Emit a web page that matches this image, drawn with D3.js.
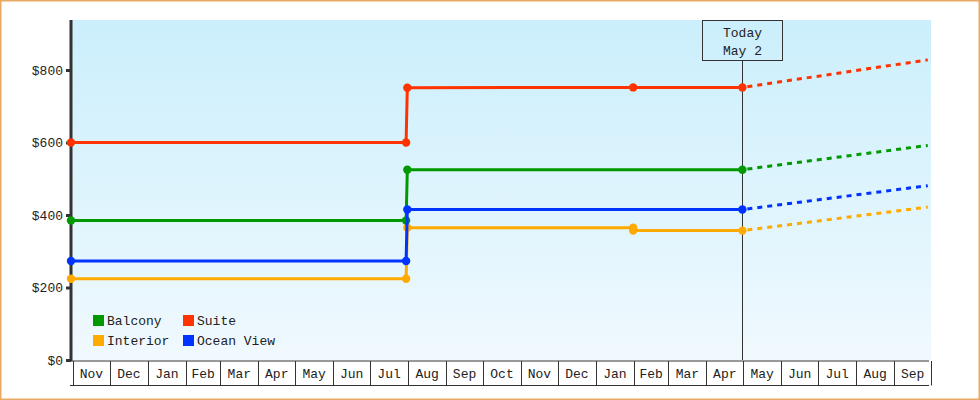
<!DOCTYPE html>
<html>
<head>
<meta charset="utf-8">
<script src="https://cdn.jsdelivr.net/npm/d3@7"></script>
<style>
  body { margin: 0; background: #fff; }
  svg text { font-family: "Liberation Mono", monospace; fill: #222; }
</style>
</head>
<body>
<div id="chart"></div>
<script>
// price history per cabin type (date, price)
const seriesNames = ['Balcony', 'Suite', 'Interior', 'Ocean View'];
const seriesColors = ['#009900', '#ff3300', '#ffaa00', '#0033ff'];

const balconyDates = ['2021-11-01', '2022-08-01', '2022-08-02', '2023-05-02'];
const balconyPrices = [385, 385, 525, 525];
const suiteDates = ['2021-11-01', '2022-08-01', '2022-08-02', '2023-02-02', '2023-05-02'];
const suitePrices = [600, 600, 751, 752, 752];
const interiorDates = ['2021-11-01', '2022-08-01', '2022-08-02', '2023-02-02', '2023-02-02', '2023-05-02'];
const interiorPrices = [224, 224, 365, 365, 357, 357];
const oceanDates = ['2021-11-01', '2022-08-01', '2022-08-02', '2023-05-02'];
const oceanPrices = [273, 273, 415, 415];

// forecast (dashed) from today to end of range
const forecastDates = ['2023-05-02', '2023-09-30'];
const balconyForecast = [525, 592];
const suiteForecast = [752, 828];
const interiorForecast = [357, 422];
const oceanForecast = [415, 481];

const yTicks = [0, 200, 400, 600, 800];
const todayDate = '2023-05-02';
const todayLabel = ['Today', 'May 2'];
const rangeStart = '2021-11-01';
const rangeEnd = '2023-10-01';

const parse = d3.timeParse('%Y-%m-%d');

const history = [
  { dates: balconyDates, prices: balconyPrices, forecast: balconyForecast },
  { dates: suiteDates, prices: suitePrices, forecast: suiteForecast },
  { dates: interiorDates, prices: interiorPrices, forecast: interiorForecast },
  { dates: oceanDates, prices: oceanPrices, forecast: oceanForecast }
];

const width = 980, height = 400;
const plot = { left: 71, right: 929, top: 20, bottom: 360 };

const svg = d3.select('#chart').append('svg')
  .attr('width', width)
  .attr('height', height);

// background gradient
const grad = svg.append('defs').append('linearGradient')
  .attr('id', 'bg').attr('x1', 0).attr('y1', 0).attr('x2', 0).attr('y2', 1);
grad.append('stop').attr('offset', '0%').attr('stop-color', '#cbeffc');
grad.append('stop').attr('offset', '100%').attr('stop-color', '#f0f9fe');

svg.append('rect')
  .attr('x', 0.75).attr('y', 0.75)
  .attr('width', width - 1.5).attr('height', height - 1.5)
  .attr('fill', '#fff')
  .attr('stroke', '#e9a962')
  .attr('stroke-width', 1.5);

svg.append('rect')
  .attr('x', plot.left).attr('y', plot.top)
  .attr('width', 931 - plot.left).attr('height', plot.bottom - plot.top)
  .attr('fill', 'url(#bg)');

const x = d3.scaleTime()
  .domain([parse(rangeStart), parse(rangeEnd)])
  .range([plot.left, plot.right]);

const y = d3.scaleLinear()
  .domain([0, 938])
  .range([plot.bottom, plot.top]);

// month cells under the axis
const months = d3.timeMonth.range(parse(rangeStart), parse(rangeEnd));
const monthFmt = d3.timeFormat('%b');
const cells = svg.append('g');
cells.append('line')
  .attr('x1', plot.left - 1).attr('x2', plot.right)
  .attr('y1', 385.5).attr('y2', 385.5)
  .attr('stroke', '#333');
cells.append('line')
  .attr('x1', plot.left).attr('x2', plot.right)
  .attr('y1', 361).attr('y2', 361)
  .attr('stroke', '#333');
cells.selectAll('.sep')
  .data(months.concat([parse(rangeEnd)]))
  .enter().append('line')
  .attr('x1', d => Math.round(x(d)) + 2.5)
  .attr('x2', d => Math.round(x(d)) + 2.5)
  .attr('y1', 361).attr('y2', 385.5)
  .attr('stroke', '#333');
cells.selectAll('.mlabel')
  .data(months)
  .enter().append('text')
  .attr('x', d => (x(d) + x(d3.timeMonth.offset(d, 1))) / 2 + 2)
  .attr('y', 378)
  .attr('text-anchor', 'middle')
  .style('font-size', '13px')
  .text(d => monthFmt(d));

// y axis
const yAxis = svg.append('g')
  .attr('transform', `translate(${plot.left},0)`)
  .call(d3.axisLeft(y).tickValues(yTicks).tickSize(5).tickPadding(3).tickFormat(d => '$' + d));
yAxis.select('.domain').remove();
yAxis.selectAll('.tick line').attr('stroke', '#333').attr('stroke-width', 3);
yAxis.selectAll('.tick text')
  .style('font-size', '13px')
  .style('font-family', '"Liberation Mono", monospace')
  .attr('fill', '#333');
svg.append('line')
  .attr('x1', plot.left).attr('x2', plot.left)
  .attr('y1', plot.top).attr('y2', plot.bottom + 1)
  .attr('stroke', '#333').attr('stroke-width', 3);

// today marker
const tx = Math.round(x(parse(todayDate))) + 0.5;
svg.append('line')
  .attr('x1', tx).attr('x2', tx)
  .attr('y1', 60).attr('y2', plot.bottom)
  .attr('stroke', '#333');
svg.append('rect')
  .attr('x', tx - 40).attr('y', 20.5)
  .attr('width', 80).attr('height', 40)
  .attr('fill', 'none').attr('stroke', '#333');
svg.selectAll('.today')
  .data(todayLabel)
  .enter().append('text')
  .attr('x', tx)
  .attr('y', (d, i) => 37 + i * 18)
  .attr('text-anchor', 'middle')
  .style('font-size', '13px')
  .text(d => d);

const line = d3.line()
  .x(d => x(d.date))
  .y(d => y(d.price));

const drawOrder = [2, 0, 3, 1];
drawOrder.forEach(i => {
  const s = history[i];
  const pts = s.dates.map((d, j) => ({ date: parse(d), price: s.prices[j] }));
  const fpts = forecastDates.map((d, j) => ({ date: parse(d), price: s.forecast[j] }));
  const g = svg.append('g');
  g.append('path')
    .datum(fpts)
    .attr('d', line)
    .attr('fill', 'none')
    .attr('stroke', seriesColors[i])
    .attr('stroke-width', 3)
    .attr('stroke-dasharray', '5,5')
    .attr('stroke-dashoffset', -5);
  g.append('path')
    .datum(pts)
    .attr('d', line)
    .attr('fill', 'none')
    .attr('stroke', seriesColors[i])
    .attr('stroke-width', 3);
  g.selectAll('circle')
    .data(pts)
    .enter().append('circle')
    .attr('cx', d => x(d.date))
    .attr('cy', d => y(d.price))
    .attr('r', 4.2)
    .attr('fill', seriesColors[i]);
});

// legend
const legend = svg.append('g');
seriesNames.forEach((name, i) => {
  const lx = 93 + (i % 2) * 90;
  const ly = 315 + Math.floor(i / 2) * 20;
  legend.append('rect')
    .attr('x', lx).attr('y', ly)
    .attr('width', 11).attr('height', 11)
    .attr('fill', seriesColors[i]);
  legend.append('text')
    .attr('x', lx + 14).attr('y', ly + 10)
    .style('font-size', '13px')
    .text(name);
});
</script>
</body>
</html>
